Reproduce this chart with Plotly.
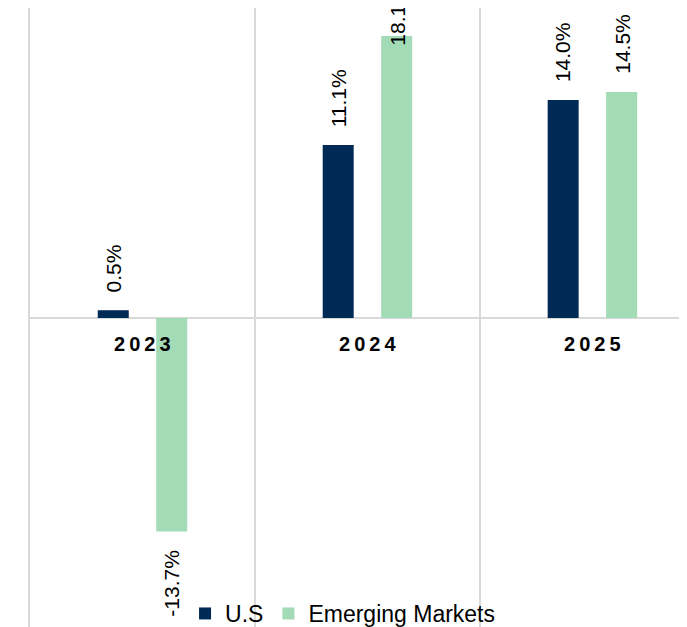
import plotly.graph_objects as go

# calendar years on the x axis
years = ["2023", "2024", "2025"]
us_returns = [0.5, 11.1, 14.0]
em_returns = [-13.7, 18.1, 14.5]

navy = "#002a56"
green = "#a2dbb5"
grid = "#d9d9d9"
font_family = "Arial, Liberation Sans, sans-serif"

x_idx = list(range(len(years)))
bargap = 0.48
half = (1 - bargap) / 4  # offset of each bar centre from the category centre

fig = go.Figure()
fig.add_trace(go.Bar(x=x_idx, y=us_returns, name="U.S", marker_color=navy,
                     marker_line_width=0))
fig.add_trace(go.Bar(x=x_idx, y=em_returns, name="Emerging Markets",
                     marker_color=green, marker_line_width=0))

# value labels, rotated, sitting off the end of each bar
y_top = 19.9
annots = []
for vals, off in [(us_returns, -half), (em_returns, half)]:
    for i, v in zip(x_idx, vals):
        txt = f"{v:.1f}%"
        a = dict(x=i + off, y=v, xref="x", yref="y", text=txt, showarrow=False,
                 textangle=-90, font=dict(family=font_family, size=21, color="#000"))
        if v >= 0:
            if v > y_top - 5:
                # no room above the bar: label pushed down over the bar end
                a.update(yanchor="bottom", yshift=-12)
            else:
                a.update(yanchor="bottom", yshift=16)
        else:
            a.update(yanchor="top", yshift=-16)
        annots.append(a)

# year labels sit just under the zero line
for i, yr in zip(x_idx, years):
    annots.append(dict(x=i, y=0, xref="x", yref="y", text="\u2009".join(yr),
                       showarrow=False, yanchor="middle", yshift=-26,
                       font=dict(family=font_family, size=20, color="#000", weight="bold")))

fig.update_layout(
    width=687, height=627,
    margin=dict(l=22, r=0, t=0, b=0),
    plot_bgcolor="white", paper_bgcolor="white",
    barmode="group", bargap=bargap, bargroupgap=0.47,
    annotations=annots,
    showlegend=True,
    legend=dict(orientation="h", x=0.47, xanchor="center", y=0, yanchor="bottom",
                bgcolor="rgba(0,0,0,0)", font=dict(family=font_family, size=23, color="#000"),
                itemwidth=30, traceorder="normal"),
    font=dict(family=font_family),
)
fig.update_xaxes(range=[-0.5, 2.456], tickvals=[-0.5, 0.5, 1.5, 2.5], showticklabels=False,
                 showgrid=True, gridcolor=grid, gridwidth=2, zeroline=False, ticks="")
fig.update_yaxes(range=[-20.35, y_top], showgrid=False, showticklabels=False, ticks="",
                 zeroline=True, zerolinecolor=grid, zerolinewidth=2,
                 showline=True, linecolor=grid, linewidth=2)

fig.write_html("out.html")
